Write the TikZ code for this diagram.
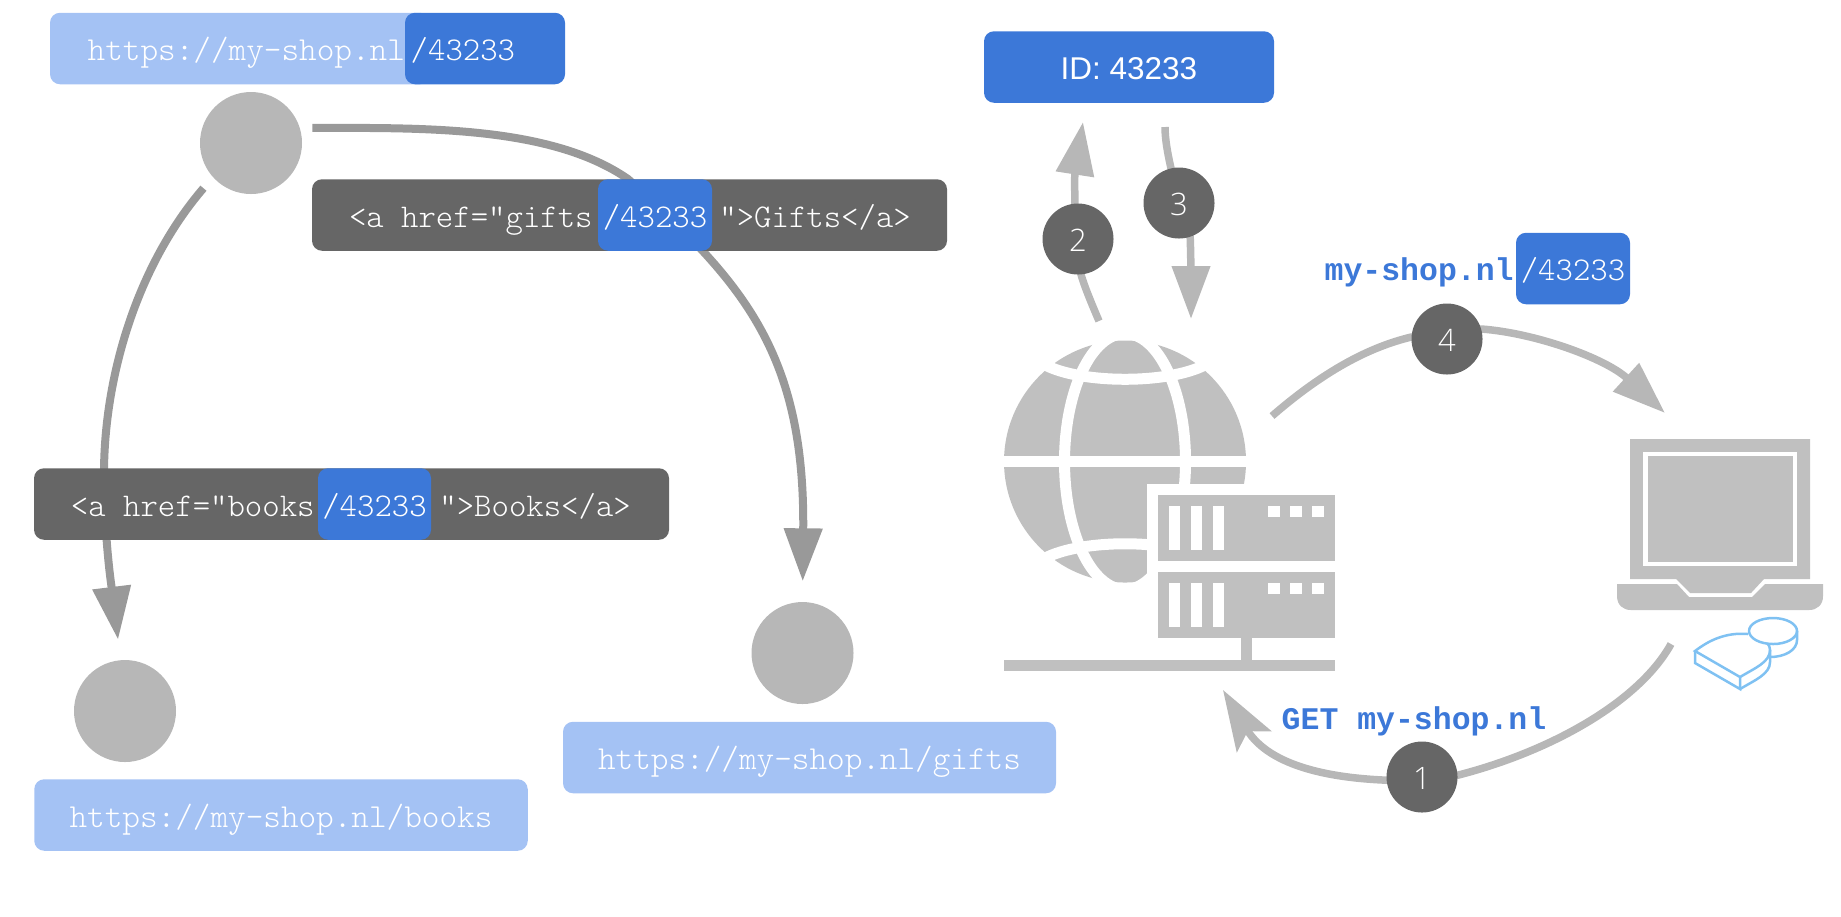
\documentclass[tikz,border=0pt]{standalone}
\usepackage{fontspec}
\setmainfont{Liberation Sans}
\setmonofont{Latin Modern Mono Light}
\newfontfamily\getfont{Liberation Mono}
\newfontfamily\badgefont{Open Sans Light}
\usepackage{tikz}
\usetikzlibrary{arrows.meta, positioning, backgrounds}
\definecolor{lightblue}{HTML}{A4C2F4}
\definecolor{darkblue}{HTML}{3C78D8}
\definecolor{darkgrey}{HTML}{666666}
\definecolor{dotgrey}{HTML}{B7B7B7}
\definecolor{icongrey}{HTML}{C0C0C0}
\definecolor{linkgrey}{HTML}{999999}
\definecolor{userblue}{HTML}{7FC1F2}
\tikzset{
    codetext/.style={inner sep=0pt, text=white, font=\fontsize{9.43pt}{11pt}\ttfamily, text height=7.9pt, text depth=1pt},
    urltext/.style={codetext, font=\fontsize{9.55pt}{11pt}\ttfamily},
    urlbox/.style={rectangle, rounded corners=1mm, fill=lightblue, minimum height=7.15mm, urltext},
    chipbox/.style={rectangle, rounded corners=1mm, fill=darkblue, minimum height=7.15mm, codetext},
    linkbox/.style={rectangle, rounded corners=1mm, fill=darkgrey, minimum height=7.15mm},
    dot/.style={circle, fill=dotgrey, minimum size=10.2mm, inner sep=0pt},
    badge/.style={circle, fill=darkgrey, minimum size=7.1mm, inner sep=0pt, text=white, font=\fontsize{8.8pt}{10pt}\badgefont, text height=7.3pt, text depth=0pt},
    bluetext/.style={inner sep=0pt, text=darkblue, font=\fontsize{8.96pt}{11pt}\getfont\bfseries, text height=7.9pt, text depth=1pt},
    linkarrow/.style={draw=linkgrey, line width=0.8mm, -{Triangle[length=5.3mm,width=3.7mm]}},
    steparrow/.style={draw=dotgrey, line width=0.75mm, -{Triangle[length=5.3mm,width=3.7mm]}},
    notcharrow/.style={draw=dotgrey, line width=0.75mm, -{Stealth[length=6mm,width=4mm,inset=1.2mm]}},
    icon/.style={fill=icongrey},
    gap/.style={draw=white, line width=1.1mm},
    user/.style={draw=userblue, line width=0.25mm}
}
\begin{document}
\begin{tikzpicture}[x=0.1mm, y=-0.1mm]
\useasboundingbox (0,0) rectangle (1841,916);

% Site pages on the left
\node (urlTop) [urlbox, minimum width=38mm] at (240,48.5) {};
\node (chipTop) [chipbox, minimum width=16mm] at (485,48.5) {};
\node (urlTopText) [urltext, anchor=west] at (87,48.5) {https://my-shop.nl};
\node (chipTopText) [codetext, anchor=west] at (410,48.5) {/43233};
\node (dotTop) [dot] at (251,143) {};

\node (linkGifts) [linkbox, minimum width=63.5mm] at (629.5,215) {};
\node (chipGifts) [chipbox, minimum width=11.4mm] at (655,215) {/43233};
\node (giftsOpen) [codetext, left=0.4mm of chipGifts] {<a href=”gifts};
\node (giftsClose) [codetext, right=0.6mm of chipGifts] {”>Gifts</a>};

\node (linkBooks) [linkbox, minimum width=63.5mm] at (351.5,504) {};
\node (chipBooks) [chipbox, minimum width=11.3mm] at (374.5,504) {/43233};
\node (booksOpen) [codetext, left=0.2mm of chipBooks] {<a href=”books};
\node (booksClose) [codetext, right=0.7mm of chipBooks] {”>Books</a>};

\node (dotBooks) [dot] at (125,711) {};
\node (urlBooks) [urlbox, minimum width=49.35mm] at (281,815) {https://my-shop.nl/books};
\node (dotGifts) [dot] at (802.5,653) {};
\node (urlGifts) [urlbox, minimum width=49.3mm] at (809.5,757.5) {https://my-shop.nl/gifts};

% Request flow on the right
\node (idBox) [chipbox, minimum width=29mm, font=\fontsize{8.96pt}{11pt}\rmfamily] at (1129,67) {ID: 43233};
\node (badgeOne) [badge] at (1422,777) {1};
\node (badgeTwo) [badge] at (1078,239) {2};
\node (badgeThree) [badge] at (1179,203) {3};
\node (badgeFour) [badge] at (1447,339) {4};
\node (chipShop) [chipbox, minimum width=11.4mm] at (1573,268.5) {/43233};
\node (shopText) [bluetext, left=0.1mm of chipShop] {my-shop.nl};
\node (getText) [bluetext, anchor=west] at (1281,717.5) {GET my-shop.nl};

% Free ends of the arrows
\coordinate (idIn) at (1083,122);
\coordinate (idOut) at (1165,127);
\coordinate (globeUp) at (1099,321);
\coordinate (globeDown) at (1191,319);
\coordinate (globeOut) at (1272,416);
\coordinate (globeIn) at (1223,690);
\coordinate (laptopIn) at (1665,413);
\coordinate (laptopOut) at (1671,644);

% Globe
\fill [icon] (1125,461.5) circle (121);
\draw [gap] (1125,461.5) ellipse (60.5 and 128);
\draw [gap] (1000,461.5) -- (1250,461.5);
\draw [gap] (1040,362) .. controls (1075,385) and (1175,385) .. (1210,362);
\draw [gap] (1040,561) .. controls (1075,538) and (1175,538) .. (1210,561);
\fill [white] (1147,484) rectangle (1340,680);

% Server
\foreach \y in {495,572} {
    \fill [icon] (1158,\y) rectangle ++(177,66);
    \foreach \x in {1169,1191,1213}
        \fill [white] (\x,\y+11) rectangle ++(11,44);
    \foreach \x in {1268,1290,1312}
        \fill [white] (\x,\y+11) rectangle ++(11.5,11);
}
\fill [icon] (1241,638) rectangle (1252,660);
\fill [icon] (1004,660) rectangle (1335,671);

% Laptop
\fill [icon] (1630,439) -- (1810,439) -- (1810,579) -- (1764,579) -- (1751,593) -- (1690,593) -- (1676,579) -- (1630,579) -- cycle;
\draw [white, line width=0.42mm] (1645.5,454) rectangle (1795,564);
\fill [icon] (1617,584) -- (1677,584) -- (1689,597) -- (1752,597) -- (1765,584) -- (1823,584) -- (1823,596) .. controls (1823,605) and (1817,610) .. (1809,610) -- (1631,610) .. controls (1623,610) and (1617,605) .. (1617,596) -- cycle;

% User
\draw [user] (1773,631) ellipse (24 and 13);
\draw [user] (1797,631) -- (1797,640) .. controls (1797,650) and (1785,657) .. (1770,657);
\draw [user] (1748,634) .. controls (1725,632) and (1708,641) .. (1695,651) -- (1740,677) .. controls (1755,668) and (1770,662) .. (1770,650) .. controls (1770,647) and (1769,645) .. (1767,643);
\draw [user] (1695,651) -- (1695,663) -- (1740,689) -- (1740,677);
\draw [user] (1740,689) .. controls (1755,680) and (1770,674) .. (1770,662) -- (1770,650);

% Arrows
\begin{scope}[on background layer]
\draw [linkarrow, shorten <=1.2mm, shorten >=2mm] (dotTop.17) .. controls (420,128) and (550,125) .. (628,179) .. controls (740,280) and (805,350) .. (dotGifts.north);
\draw [linkarrow, shorten <=1.4mm, shorten >=2mm] (dotTop.222) .. controls (140,262) and (105,370) .. (104,470) .. controls (104,540) and (112,590) .. (dotBooks.95);
\draw [notcharrow] (laptopOut) .. controls (1640,700) and (1555,750) .. (badgeOne.3) -- (badgeOne.185) .. controls (1335,778) and (1270,768) .. (globeIn);
\draw [steparrow] (globeUp) .. controls (1090,300) and (1084,285) .. (badgeTwo.275) -- (badgeTwo.95) .. controls (1075,190) and (1074,180) .. (idIn);
\draw [steparrow] (idOut) .. controls (1165,140) and (1168,155) .. (badgeThree.103) -- (badgeThree.288) .. controls (1191,260) and (1191,290) .. (globeDown);
\draw [steparrow] (globeOut) .. controls (1325,370) and (1370,347) .. (badgeFour.177) -- (badgeFour.16) .. controls (1535,333) and (1605,358) .. (laptopIn);
\end{scope}

\end{tikzpicture}
\end{document}
